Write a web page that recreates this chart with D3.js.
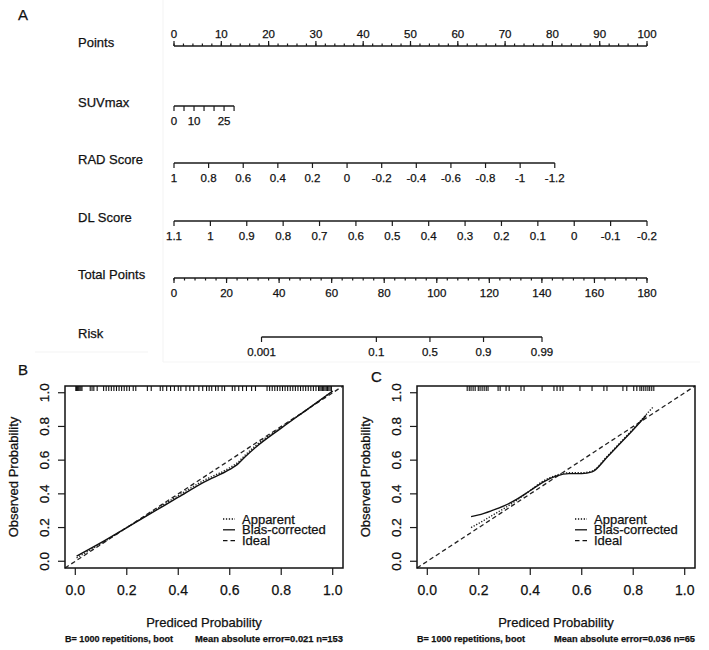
<!DOCTYPE html>
<html lang="en">
<head>
<meta charset="utf-8">
<title>Nomogram and calibration curves</title>
<script src="https://d3js.org/d3.v7.min.js"></script>
<style>
  body { margin: 0; background: #fff; }
  svg text { font-family: "Liberation Sans", Arial, sans-serif; fill: #111; stroke: #111; stroke-width: 0.25px; }
  .ax { stroke: #1a1a1a; stroke-width: 1.5px; fill: none; }
  .tk { stroke: #1a1a1a; stroke-width: 1.2px; }
</style>
</head>
<body>
<div id="chart"></div>
<script>
// ---------- data ----------
// nomogram tick values
var pointsTicks = [0, 10, 20, 30, 40, 50, 60, 70, 80, 90, 100];
var suvTicks = [0, 5, 10, 15, 20, 25, 30];
var suvLabels = [0, 10, 25];
var radTicks = [1, 0.8, 0.6, 0.4, 0.2, 0, -0.2, -0.4, -0.6, -0.8, -1, -1.2];
var dlTicks = [1.1, 1, 0.9, 0.8, 0.7, 0.6, 0.5, 0.4, 0.3, 0.2, 0.1, 0, -0.1, -0.2];
var totalTicks = [0, 20, 40, 60, 80, 100, 120, 140, 160, 180];
var riskTicks = [0.001, 0.1, 0.5, 0.9, 0.99];

// points given at the end of each predictor scale
var suvMaxPoints = 12.7;   // SUVmax = 30
var radMaxPoints = 80.5;   // RAD score = -1.2
var dlMaxPoints = 100;     // DL score = -0.2
// risk: total points = intercept + slope * logit(p)
var riskIntercept = 97.4;
var riskSlope = 9.28;

// calibration B (training, n=153)
var bPred      = [0.005, 0.1, 0.2, 0.3, 0.4, 0.5, 0.6, 0.63, 0.66, 0.7, 0.8, 0.9, 1.0];
var bApparent  = [0.02, 0.105, 0.2, 0.295, 0.39, 0.48, 0.555, 0.585, 0.63, 0.685, 0.795, 0.9, 1.01];
var bCorrected = [0.03, 0.11, 0.2, 0.29, 0.38, 0.47, 0.545, 0.575, 0.62, 0.675, 0.79, 0.9, 1.01];
var bRug = [0.002, 0.005, 0.008, 0.011, 0.014, 0.018, 0.022, 0.026, 0.058, 0.065, 0.072, 0.085,
  0.11, 0.12, 0.13, 0.14, 0.15, 0.16, 0.17, 0.18, 0.19, 0.2, 0.21, 0.225, 0.235, 0.28, 0.295,
  0.33, 0.34, 0.355, 0.37, 0.385, 0.40, 0.41, 0.43, 0.445, 0.46, 0.48, 0.495, 0.51, 0.52, 0.53,
  0.545, 0.555, 0.57, 0.58, 0.61, 0.62, 0.635, 0.65, 0.665, 0.685, 0.70,
  0.745, 0.755, 0.765, 0.775, 0.785, 0.795, 0.805, 0.815, 0.825, 0.835, 0.845, 0.855, 0.865,
  0.875, 0.885, 0.895, 0.905, 0.915, 0.925, 0.935, 0.945, 0.95, 0.955, 0.96, 0.965, 0.97,
  0.975, 0.98, 0.985, 0.99, 0.995];

// calibration C (validation, n=65)
var cPred      = [0.17, 0.2, 0.25, 0.3, 0.35, 0.4, 0.45, 0.5, 0.55, 0.6, 0.64, 0.7, 0.75, 0.8, 0.85, 0.88];
var cApparent  = [0.20, 0.225, 0.27, 0.315, 0.365, 0.42, 0.475, 0.51, 0.525, 0.525, 0.535, 0.625, 0.705, 0.785, 0.87, 0.92];
var cCorrected = [0.265, 0.275, 0.30, 0.33, 0.37, 0.42, 0.47, 0.505, 0.52, 0.52, 0.53, 0.62, 0.70, 0.78, 0.865, null];
var cRug = [0.155, 0.163, 0.17, 0.178, 0.186, 0.198, 0.205, 0.213, 0.221, 0.229, 0.236, 0.275, 0.283,
  0.306, 0.318, 0.364, 0.376, 0.446, 0.492, 0.504, 0.516, 0.527, 0.593, 0.64, 0.686, 0.698,
  0.76, 0.775, 0.802, 0.814, 0.826, 0.833, 0.841, 0.849, 0.857, 0.864, 0.872, 0.88];

var legendLabels = ["Apparent", "Bias-corrected", "Ideal"];

// ---------- svg ----------
var svg = d3.select("#chart").append("svg")
  .attr("width", 709)
  .attr("height", 650);

// faint borders left over from the composite figure
svg.append("line").attr("x1", 163).attr("x2", 163).attr("y1", 0).attr("y2", 362).attr("stroke", "#f3f3f3");
svg.append("line").attr("x1", 35).attr("x2", 148).attr("y1", 352).attr("y2", 352).attr("stroke", "#f3f3f3");
svg.append("line").attr("x1", 163).attr("x2", 700).attr("y1", 362).attr("y2", 362).attr("stroke", "#f5f5f5");

// ---------- A: nomogram ----------
svg.append("text").attr("x", 18).attr("y", 20).attr("font-size", 15).text("A");

var xPts = d3.scaleLinear().domain([0, 100]).range([174, 647]);
var xTot = d3.scaleLinear().domain([0, 180]).range([174, 647]);
var suvPts = d3.scaleLinear().domain([0, 30]).range([0, suvMaxPoints]);
var radPts = d3.scaleLinear().domain([1, -1.2]).range([0, radMaxPoints]);
var dlPts = d3.scaleLinear().domain([1.1, -0.2]).range([0, dlMaxPoints]);
function logit(p) { return Math.log(p / (1 - p)); }

// one nomogram row: title, axis line, ticks (major + optional minor), labels
function nomoRow(y, title, ticks, labels, xf, minor, up) {
  var g = svg.append("g");
  g.append("text").attr("x", 78).attr("y", y + 1).attr("font-size", 13).text(title);
  var ext = d3.extent(ticks.map(xf));
  g.append("line").attr("class", "ax")
    .attr("x1", ext[0]).attr("x2", ext[1]).attr("y1", y).attr("y2", y);
  var dir = up ? -1 : 1;
  if (minor) {
    g.selectAll(".mn").data(minor).join("line").attr("class", "tk")
      .attr("x1", xf).attr("x2", xf)
      .attr("y1", y).attr("y2", y + dir * 2.5);
  }
  g.selectAll(".mj").data(ticks).join("line").attr("class", "tk")
    .attr("x1", xf).attr("x2", xf)
    .attr("y1", y).attr("y2", y + dir * 5);
  g.selectAll(".lb").data(labels).join("text")
    .attr("x", xf)
    .attr("y", up ? y - 8 : y + 18.5)
    .attr("text-anchor", "middle")
    .attr("font-size", 11.5)
    .text(function (d) { return d; });
}

nomoRow(46, "Points", pointsTicks, pointsTicks, xPts, d3.range(0, 101, 2), true);
nomoRow(106, "SUVmax", suvTicks, suvLabels, function (d) { return xPts(suvPts(d)); }, null, false);
nomoRow(163, "RAD Score", radTicks, radTicks, function (d) { return xPts(radPts(d)); }, null, false);
nomoRow(221, "DL Score", dlTicks, dlTicks, function (d) { return xPts(dlPts(d)); }, null, false);
nomoRow(278, "Total Points", totalTicks, totalTicks, xTot, d3.range(0, 181, 4), false);
nomoRow(337, "Risk", riskTicks, riskTicks,
  function (d) { return xTot(riskIntercept + riskSlope * logit(d)); }, null, false);

// ---------- B / C: calibration curves ----------
function calPanel(left, top, letter, lx, ly, pred, apparent, corrected, rug, note, noteLen) {
  var right = left + 278, bottom = 568;
  var x = d3.scaleLinear().domain([-0.04, 1.04]).range([left, right]);
  var y = d3.scaleLinear().domain([-0.04, 1.04]).range([bottom, top]);
  var g = svg.append("g");
  var ticks = [0, 0.2, 0.4, 0.6, 0.8, 1.0];

  g.append("text").attr("x", lx).attr("y", ly).attr("font-size", 15).text(letter);

  // ideal line
  g.append("path")
    .datum([-0.04, 1.04])
    .attr("fill", "none").attr("stroke", "#222").attr("stroke-width", 1.3)
    .attr("stroke-dasharray", "4.5,3")
    .attr("d", d3.line().x(function (d) { return x(d); }).y(function (d) { return y(d); }));

  var idx = d3.range(pred.length);
  // apparent (dotted)
  g.append("path")
    .datum(idx.filter(function (i) { return apparent[i] != null; }))
    .attr("fill", "none").attr("stroke", "#222").attr("stroke-width", 1.4)
    .attr("stroke-dasharray", "1.3,1.6")
    .attr("d", d3.line().curve(d3.curveMonotoneX)
      .x(function (i) { return x(pred[i]); })
      .y(function (i) { return y(apparent[i]); }));
  // bias-corrected (solid)
  g.append("path")
    .datum(idx.filter(function (i) { return corrected[i] != null; }))
    .attr("fill", "none").attr("stroke", "#111").attr("stroke-width", 1.4)
    .attr("d", d3.line().curve(d3.curveMonotoneX)
      .x(function (i) { return x(pred[i]); })
      .y(function (i) { return y(corrected[i]); }));

  // rug of predicted probabilities along the top
  g.selectAll(".rug").data(rug).join("line")
    .attr("x1", function (d) { return x(d); }).attr("x2", function (d) { return x(d); })
    .attr("y1", top).attr("y2", top + 5)
    .attr("stroke", "#111").attr("stroke-width", 1.1);

  // box
  g.append("rect").attr("x", left).attr("y", top)
    .attr("width", right - left).attr("height", bottom - top)
    .attr("fill", "none").attr("stroke", "#111").attr("stroke-width", 1.5);

  // x axis
  g.selectAll(".xt").data(ticks).join("line").attr("class", "tk")
    .attr("x1", function (d) { return x(d); }).attr("x2", function (d) { return x(d); })
    .attr("y1", bottom).attr("y2", bottom + 7);
  g.selectAll(".xl").data(ticks).join("text")
    .attr("x", function (d) { return x(d); }).attr("y", 595)
    .attr("text-anchor", "middle").attr("font-size", 14)
    .text(d3.format(".1f"));

  // y axis, rotated labels
  g.selectAll(".yt").data(ticks).join("line").attr("class", "tk")
    .attr("x1", left).attr("x2", left - 7)
    .attr("y1", function (d) { return y(d); }).attr("y2", function (d) { return y(d); });
  g.selectAll(".yl").data(ticks).join("text")
    .attr("transform", function (d) { return "translate(" + (left - 16) + "," + y(d) + ") rotate(-90)"; })
    .attr("text-anchor", "middle").attr("font-size", 13.5)
    .text(d3.format(".1f"));

  g.append("text")
    .attr("transform", "translate(" + (left - 47) + "," + ((top + bottom) / 2) + ") rotate(-90)")
    .attr("text-anchor", "middle").attr("font-size", 13)
    .text("Observed Probability");
  g.append("text")
    .attr("x", (left + right) / 2).attr("y", 627)
    .attr("text-anchor", "middle").attr("font-size", 13)
    .text("Prediced Probability");

  // footnotes
  g.append("text").attr("x", left).attr("y", 642)
    .attr("font-size", 9.5).attr("font-weight", "bold")
    .attr("textLength", 108).attr("lengthAdjust", "spacingAndGlyphs")
    .text("B= 1000 repetitions, boot");
  g.append("text").attr("x", right - noteLen).attr("y", 642)
    .attr("font-size", 9.5).attr("font-weight", "bold")
    .attr("textLength", noteLen).attr("lengthAdjust", "spacingAndGlyphs")
    .text(note);

  // legend
  var dashes = ["1.3,1.6", null, "4.5,3"];
  var lg = g.append("g");
  legendLabels.forEach(function (lab, i) {
    var by = 523.5 + i * 10.8;
    lg.append("line")
      .attr("x1", left + 158).attr("x2", left + 170)
      .attr("y1", by - 4.5).attr("y2", by - 4.5)
      .attr("stroke", "#111").attr("stroke-width", 1.3)
      .attr("stroke-dasharray", dashes[i]);
    lg.append("text").attr("x", left + 177).attr("y", by)
      .attr("font-size", 13).text(lab);
  });
}

calPanel(65, 386, "B", 18, 375, bPred, bApparent, bCorrected, bRug,
  "Mean absolute error=0.021 n=153", 148);
calPanel(417, 386, "C", 371, 382, cPred, cApparent, cCorrected, cRug,
  "Mean absolute error=0.036 n=65", 141);
</script>
</body>
</html>
